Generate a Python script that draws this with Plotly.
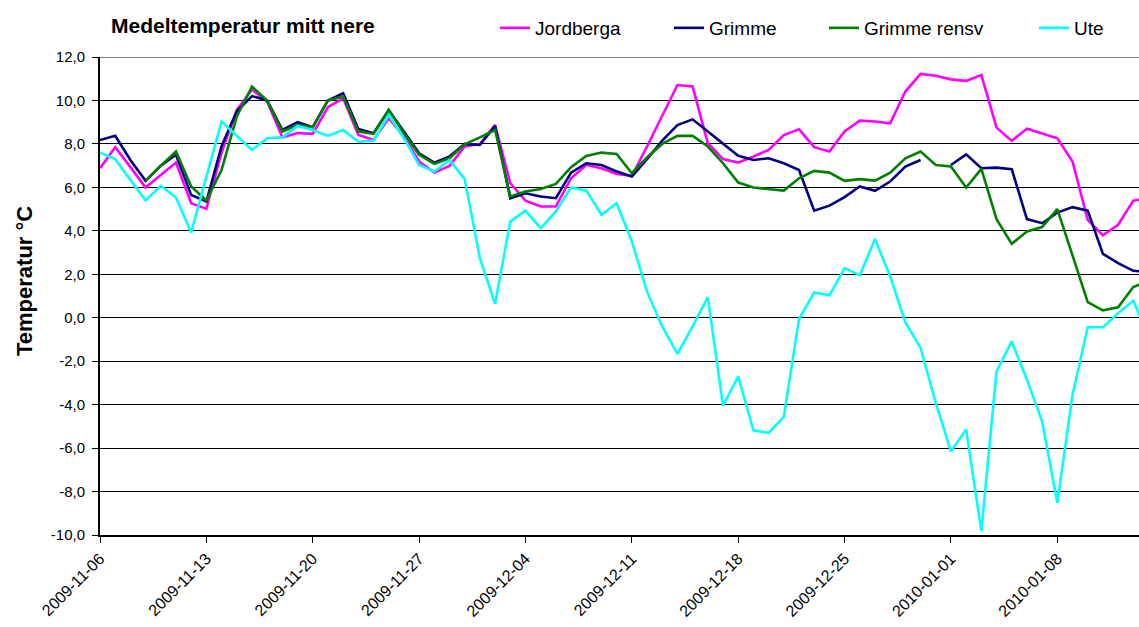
import pandas as pd
import plotly.graph_objects as go

# ---- data ----
dates = pd.date_range("2009-11-06", "2010-01-14", freq="D").strftime("%Y-%m-%d").tolist()

jordberga = [6.88, 7.85, 6.93, 5.99, 6.57, 7.14, 5.27, 5.01, 7.6, 9.56,
             10.5, 9.95, 8.3, 8.5, 8.46, 9.69, 10.1, 8.41, 8.18, 9.18,
             8.34, 7.19, 6.68, 6.99, 7.88, 8.0, 8.87, 6.19, 5.39, 5.12,
             5.12, 6.42, 7.03, 6.88, 6.62, 6.53, 7.88, 9.33, 10.71, 10.64,
             8.03, 7.3, 7.14, 7.42, 7.72, 8.41, 8.67, 7.85, 7.65, 8.57,
             9.07, 9.03, 8.95, 10.41, 11.22, 11.14, 10.97, 10.9, 11.17, 8.75,
             8.14, 8.7, 8.49, 8.26, 7.19, 4.51, 3.79, 4.28, 5.39, 5.5]

grimme = [8.18, 8.37, 7.26, 6.3, 7.0, 7.5, 5.65, 5.35, 7.9, 9.5,
          10.2, 10.0, 8.65, 9.0, 8.77, 10.0, 10.33, 8.69, 8.49, 9.56,
          8.57, 7.57, 7.14, 7.42, 8.0, 7.95, 8.83, 5.5, 5.73, 5.58,
          5.5, 6.68, 7.11, 7.03, 6.73, 6.5, 7.3, 8.15, 8.87, 9.13,
          8.57, 8.0, 7.45, 7.26, 7.34, 7.11, 6.8, 4.93, 5.16, 5.55,
          6.04, 5.84, 6.27, 6.96, 7.26, None, 7.03, 7.52, 6.88, 6.91,
          6.84, 4.54, 4.35, 4.84, 5.09, 4.93, 2.94, 2.51, 2.16, 2.1]

grimme_rensv = [None, None, None, 6.3, 7.0, 7.65, 6.04, 5.4, 6.8, 9.26,
                10.64, 10.0, 8.57, 8.87, 8.77, 10.0, 10.18, 8.57, 8.46, 9.56,
                8.49, 7.5, 7.08, 7.34, 7.98, 8.3, 8.64, 5.58, 5.81, 5.92,
                6.16, 6.93, 7.45, 7.6, 7.54, 6.65, 7.38, 8.0, 8.37, 8.37,
                7.88, 7.11, 6.22, 5.99, 5.92, 5.85, 6.42, 6.76, 6.68, 6.3,
                6.38, 6.31, 6.68, 7.34, 7.65, 7.03, 6.96, 5.99, 6.85, 4.54,
                3.4, 3.97, 4.17, 5.0, 2.87, 0.72, 0.34, 0.48, 1.41, 1.7]

ute = [7.6, 7.3, 6.34, 5.4, 6.07, 5.53, 3.92, 6.5, 9.03, 8.37,
       7.72, 8.26, 8.3, 8.83, 8.64, 8.37, 8.64, 8.1, 8.15, 9.33,
       8.26, 7.03, 6.73, 7.26, 6.38, 2.74, 0.64, 4.43, 4.93, 4.12,
       4.89, 6.0, 5.85, 4.74, 5.27, 3.51, 1.2, -0.4, -1.66, -0.4,
       0.95, -4.05, -2.7, -5.18, -5.3, -4.57, -0.06, 1.16, 1.03, 2.28,
       1.95, 3.62, 1.9, -0.22, -1.39, -3.92, -6.15, -5.15, -9.82, -2.47,
       -1.09, -2.85, -4.77, -8.52, -3.54, -0.44, -0.44, 0.21, 0.78, -0.85]

series_names = ["Jordberga", "Grimme", "Grimme rensv", "Ute"]
series_values = [jordberga, grimme, grimme_rensv, ute]
series_colors = ["#FF00FF", "#000080", "#008000", "#00FFFF"]

x_tick_vals = ["2009-11-06", "2009-11-13", "2009-11-20", "2009-11-27", "2009-12-04",
               "2009-12-11", "2009-12-18", "2009-12-25", "2010-01-01", "2010-01-08"]
y_tick_vals = [12, 10, 8, 6, 4, 2, 0, -2, -4, -6, -8, -10]
y_tick_text = ["12,0", "10,0", "8,0", "6,0", "4,0", "2,0", "0,0", "-2,0", "-4,0", "-6,0", "-8,0", "-10,0"]

title_text = "Medeltemperatur mitt nere"
y_title = "Temperatur °C"

# ---- figure ----
W, H = 1139, 627
ML, MR, MT, MB = 100, 0, 57, 92
FONT = "Liberation Sans, Arial, sans-serif"

fig = go.Figure()
legend_x_px = [495, 669, 824, 1034]
for i, (name, vals, col) in enumerate(zip(series_names, series_values, series_colors)):
    lg = "legend" if i == 0 else f"legend{i+1}"
    fig.add_trace(go.Scatter(
        x=dates, y=vals, name=name, mode="lines",
        line=dict(color=col, width=2.6),
        connectgaps=False, legend=lg,
    ))

legend_common = dict(orientation="h", yanchor="middle", xanchor="left",
                     xref="container", yref="container",
                     font=dict(family=FONT, size=19, color="#000000"),
                     bgcolor="rgba(0,0,0,0)", borderwidth=0, itemwidth=30)
layout_legends = {}
for i, px in enumerate(legend_x_px):
    key = "legend" if i == 0 else f"legend{i+1}"
    d = dict(legend_common)
    d.update(x=px / W, y=1 - 28 / H)
    layout_legends[key] = d

fig.update_layout(
    width=W, height=H,
    margin=dict(l=ML, r=MR, t=MT, b=MB, autoexpand=False),
    paper_bgcolor="white", plot_bgcolor="white",
    font=dict(family=FONT, color="#000000"),
    title=dict(text=f"<b>{title_text}</b>", x=111 / W, xanchor="left",
               y=1 - 26 / H, yanchor="middle", xref="container", yref="container",
               font=dict(family=FONT, size=21, color="#000000")),
    showlegend=True,
    **layout_legends,
)

fig.update_xaxes(
    type="date",
    range=["2009-11-06", "2010-01-13 09:00"],
    tickvals=x_tick_vals, ticktext=x_tick_vals,
    tickangle=-45, ticks="outside", ticklen=6, tickwidth=1, tickcolor="#000000",
    tickfont=dict(family=FONT, size=16, color="#000000"),
    showgrid=False, showline=True, linecolor="#000000", linewidth=2,
    zeroline=False,
)
fig.update_yaxes(
    range=[-10, 12],
    tickvals=y_tick_vals, ticktext=y_tick_text,
    ticks="outside", ticklen=6, tickwidth=1, tickcolor="#000000",
    tickfont=dict(family=FONT, size=15, color="#000000"),
    showgrid=True, gridcolor="#000000", gridwidth=1,
    showline=True, linecolor="#000000", linewidth=2,
    zeroline=False, ticklabelstandoff=4,
)

# top border (grey) line of plot area
fig.add_shape(type="line", xref="paper", yref="y", x0=0, x1=1, y0=12, y1=12,
              line=dict(color="#808080", width=2), layer="above")

# y-axis title
fig.add_annotation(text=f"<b>{y_title}</b>", xref="paper", yref="paper",
                   x=0, y=0.5, xanchor="center", yanchor="middle",
                   xshift=-(ML - 24), yshift=15, textangle=-90, showarrow=False,
                   font=dict(family=FONT, size=22, color="#000000"))

fig.write_html("out.html", config={"displayModeBar": False},
               post_script="document.body.style.margin='0';")
